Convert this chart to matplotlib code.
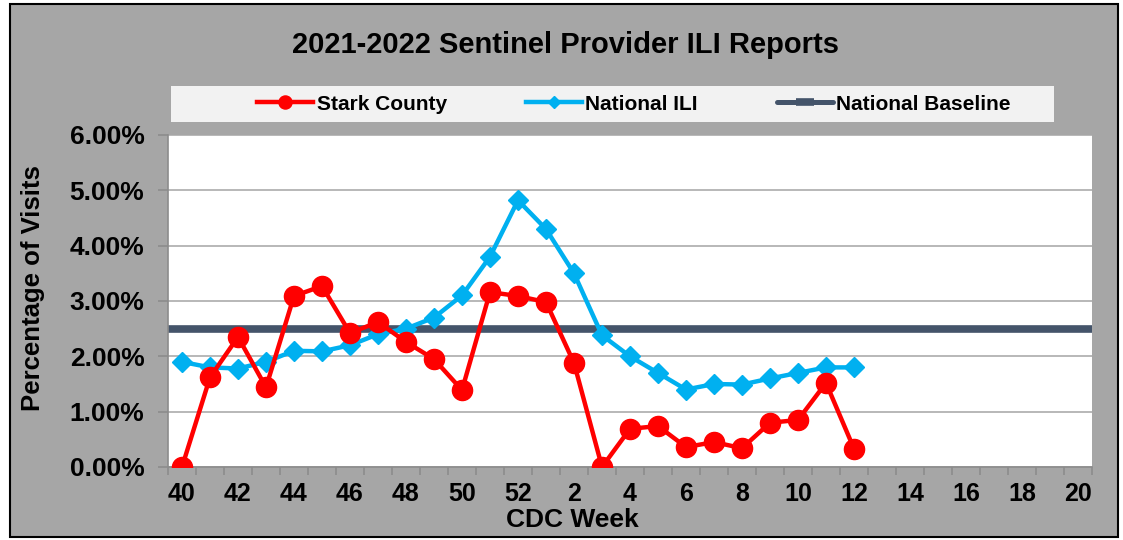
import matplotlib
matplotlib.use("Agg")
import matplotlib.pyplot as plt
from matplotlib.patches import Rectangle
from matplotlib.ticker import FuncFormatter, MultipleLocator, FixedLocator

plt.rcParams['font.family'] = ['Liberation Sans', 'DejaVu Sans']
plt.rcParams['font.weight'] = 'bold'

weeks = list(range(40, 53)) + list(range(1, 21))
stark = [0.00, 1.62, 2.35, 1.44, 3.09, 3.27, 2.42, 2.62, 2.26, 1.95, 1.39,
         3.16, 3.09, 2.98, 1.88, 0.00, 0.69, 0.74, 0.36, 0.45, 0.34, 0.80,
         0.85, 1.52, 0.33]
national = [1.90, 1.80, 1.78, 1.90, 2.10, 2.09, 2.20, 2.40, 2.50, 2.70, 3.10,
            3.80, 4.82, 4.30, 3.50, 2.38, 2.00, 1.70, 1.40, 1.50, 1.49, 1.60,
            1.70, 1.80, 1.80]
baseline = [2.5] * len(weeks)

W, H = 1123, 540
fig = plt.figure(figsize=(W / 100, H / 100), dpi=100, facecolor='white')

# gray chart frame with black border
fig.patches.append(Rectangle((10 / W, 3 / H), 1108 / W, 533 / H,
                             transform=fig.transFigure, facecolor='#A6A6A6',
                             edgecolor='black', lw=1.5, zorder=-2))
# legend background
fig.patches.append(Rectangle((171 / W, 1 - 122 / H), 883 / W, 36 / H,
                             transform=fig.transFigure, facecolor='#F2F2F2',
                             edgecolor='none', zorder=-1))

ax = fig.add_axes([168 / W, 73 / H, 924 / W, 332 / H])
ax.set_facecolor('white')

x = list(range(len(weeks)))
ax.plot(x, baseline, color='#44546A', lw=3.6, marker='_', ms=20, mew=5.5,
        solid_capstyle='round', label='National Baseline', zorder=2)
ax.plot(x[:len(national)], national, color='#00B0F0', lw=3.2, marker='D',
        ms=10, label='National ILI', zorder=3)
ax.plot(x[:len(stark)], stark, color='#FF0000', lw=3.2, marker='o',
        ms=14.5, label='Stark County', zorder=4)

ax.set_xlim(-0.5, len(weeks) - 0.5)
ax.set_ylim(0, 6)
ax.yaxis.set_major_locator(MultipleLocator(1))
ax.yaxis.set_major_formatter(FuncFormatter(lambda v, p: f'{v:.2f}%'))
ax.grid(axis='y', color='#ABABAB', lw=1.2)
ax.set_axisbelow(True)

ax.xaxis.set_major_locator(FixedLocator(x[::2]))
ax.set_xticklabels([str(w) for w in weeks[::2]])
ax.xaxis.set_minor_locator(FixedLocator([i - 0.5 for i in range(len(weeks) + 1)]))
ax.tick_params(axis='x', which='major', length=0, pad=11, labelsize=18)
ax.tick_params(axis='x', which='minor', length=6, width=1.2, color='#8C8C8C')
ax.tick_params(axis='y', length=7, width=1.2, color='#8C8C8C', labelsize=19, pad=10)

for s in ['top', 'right']:
    ax.spines[s].set_visible(False)
for s in ['left', 'bottom']:
    ax.spines[s].set_color('#8C8C8C')
    ax.spines[s].set_linewidth(1.2)

fig.text(33 / W, 1 - 288 / H, 'Percentage of Visits', rotation=90,
         ha='center', va='center', fontsize=18.5, fontweight='bold')
fig.text(565 / W, 1 - 45 / H, '2021-2022 Sentinel Provider ILI Reports',
         ha='center', va='center', fontsize=21, fontweight='bold')
fig.text(572 / W, 1 - 520 / H, 'CDC Week', ha='center', va='center',
         fontsize=19, fontweight='bold')

handles, labels = ax.get_legend_handles_labels()
order = [2, 1, 0]
fig.legend([handles[i] for i in order], [labels[i] for i in order],
           loc='center', bbox_to_anchor=(634 / W, 1 - 104 / H), ncol=3,
           frameon=False, handlelength=2.7, handletextpad=0.15,
           columnspacing=3.8, markerscale=0.65,
           prop={'weight': 'bold', 'size': 15})

fig.savefig('out.png', dpi=100, facecolor=fig.get_facecolor())
